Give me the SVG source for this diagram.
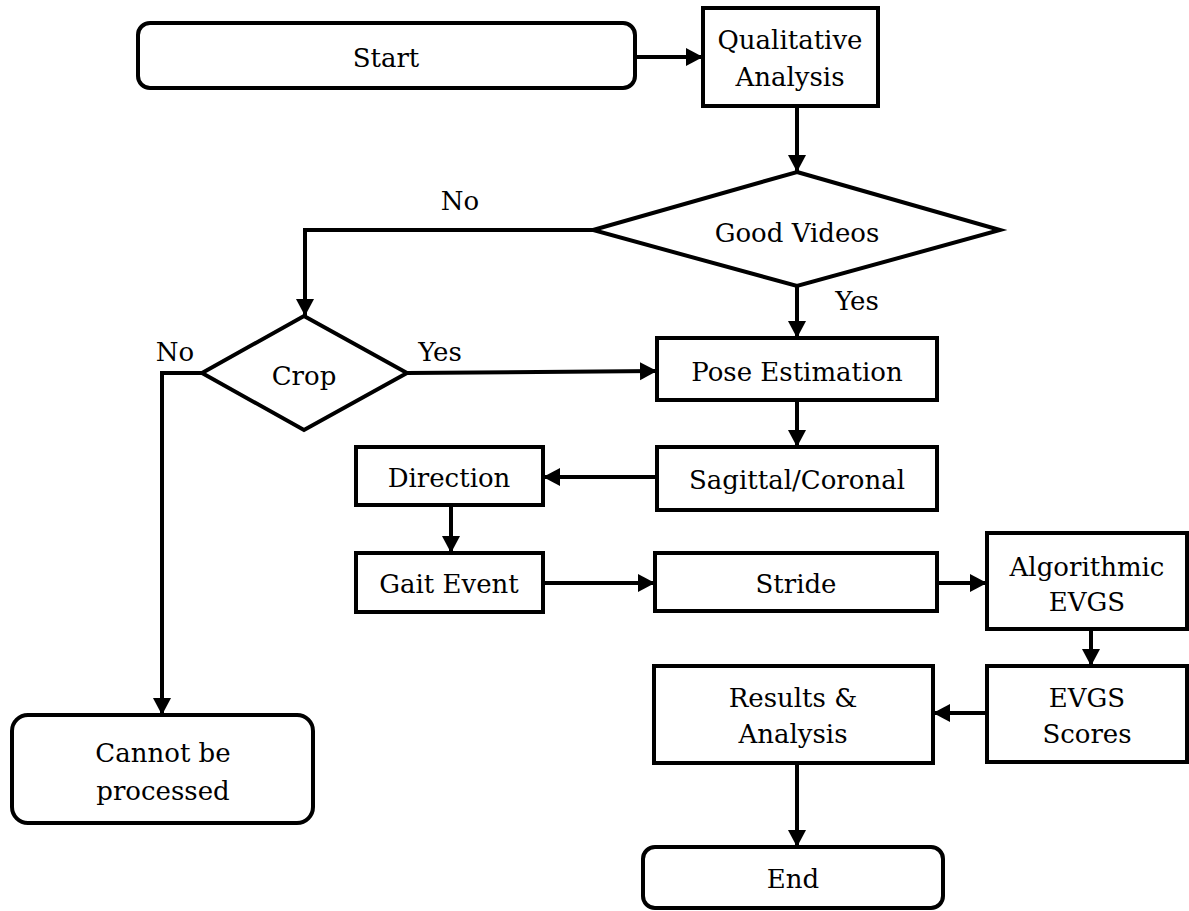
<svg xmlns="http://www.w3.org/2000/svg" width="1189" height="911" viewBox="0 0 1189 911">
<style>
.box{fill:#fff;stroke:#000;stroke-width:4}
.t{font-family:'DejaVu Serif',serif;font-size:26px;fill:#000;text-anchor:middle}
.c{fill:none;stroke:#000;stroke-width:4}
</style>
<defs>
<marker id="ah" markerUnits="userSpaceOnUse" markerWidth="20" markerHeight="20" refX="17" refY="9" orient="auto">
<path d="M0,0 L17,9 L0,18 z" fill="#000"/>
</marker>
</defs>
<rect width="1189" height="911" fill="#fff"/>
<g id="connectors">
<path class="c" d="M635,57 L703,57" marker-end="url(#ah)"/>
<path class="c" d="M797,106 L797,172" marker-end="url(#ah)"/>
<path class="c" d="M797,286 L797,338" marker-end="url(#ah)"/>
<path class="c" d="M593,230 L305,230 L305,316" marker-end="url(#ah)"/>
<path class="c" d="M407,373 L657,371" marker-end="url(#ah)"/>
<path class="c" d="M202,373 L162,373 L162,715" marker-end="url(#ah)"/>
<path class="c" d="M797,400 L797,447" marker-end="url(#ah)"/>
<path class="c" d="M657,477 L543,477" marker-end="url(#ah)"/>
<path class="c" d="M451,505 L451,553" marker-end="url(#ah)"/>
<path class="c" d="M543,583 L655,583" marker-end="url(#ah)"/>
<path class="c" d="M937,583 L987,583" marker-end="url(#ah)"/>
<path class="c" d="M1091,629 L1091,666" marker-end="url(#ah)"/>
<path class="c" d="M986,713 L933,713" marker-end="url(#ah)"/>
<path class="c" d="M797,764 L797,847" marker-end="url(#ah)"/>
<text class="t" x="460" y="210">No</text>
<text class="t" x="857" y="310">Yes</text>
<text class="t" x="440" y="361">Yes</text>
<text class="t" x="175" y="361">No</text>
</g>
<g id="start"><rect class="box" x="138" y="23" width="497" height="65" rx="12"/><text class="t" x="386" y="67">Start</text></g>
<g id="qualitative"><rect class="box" x="703" y="8" width="175" height="98"/><text class="t" x="790" y="49">Qualitative</text><text class="t" x="790" y="86">Analysis</text></g>
<g id="good-videos"><polygon class="box" points="797,172 1000,230 797,286 593,230"/><text class="t" x="797" y="242">Good Videos</text></g>
<g id="crop"><polygon class="box" points="304,316 407,373 304,430 202,373"/><text class="t" x="304" y="385">Crop</text></g>
<g id="pose"><rect class="box" x="657" y="338" width="280" height="62"/><text class="t" x="797" y="381">Pose Estimation</text></g>
<g id="sagittal"><rect class="box" x="657" y="447" width="280" height="63"/><text class="t" x="797" y="489">Sagittal/Coronal</text></g>
<g id="direction"><rect class="box" x="356" y="447" width="187" height="58"/><text class="t" x="449" y="487">Direction</text></g>
<g id="gait"><rect class="box" x="356" y="553" width="187" height="59"/><text class="t" x="449" y="593">Gait Event</text></g>
<g id="stride"><rect class="box" x="655" y="553" width="282" height="58"/><text class="t" x="796" y="593">Stride</text></g>
<g id="algorithmic"><rect class="box" x="987" y="533" width="200" height="96"/><text class="t" x="1087" y="576">Algorithmic</text><text class="t" x="1087" y="611">EVGS</text></g>
<g id="scores"><rect class="box" x="987" y="666" width="200" height="96"/><text class="t" x="1087" y="707">EVGS</text><text class="t" x="1087" y="743">Scores</text></g>
<g id="results"><rect class="box" x="654" y="666" width="279" height="97"/><text class="t" x="793" y="707">Results &amp;</text><text class="t" x="793" y="743">Analysis</text></g>
<g id="cannot"><rect class="box" x="12" y="715" width="301" height="108" rx="16"/><text class="t" x="163" y="762">Cannot be</text><text class="t" x="163" y="800">processed</text></g>
<g id="end"><rect class="box" x="643" y="847" width="300" height="61" rx="12"/><text class="t" x="793" y="888">End</text></g>
</svg>
